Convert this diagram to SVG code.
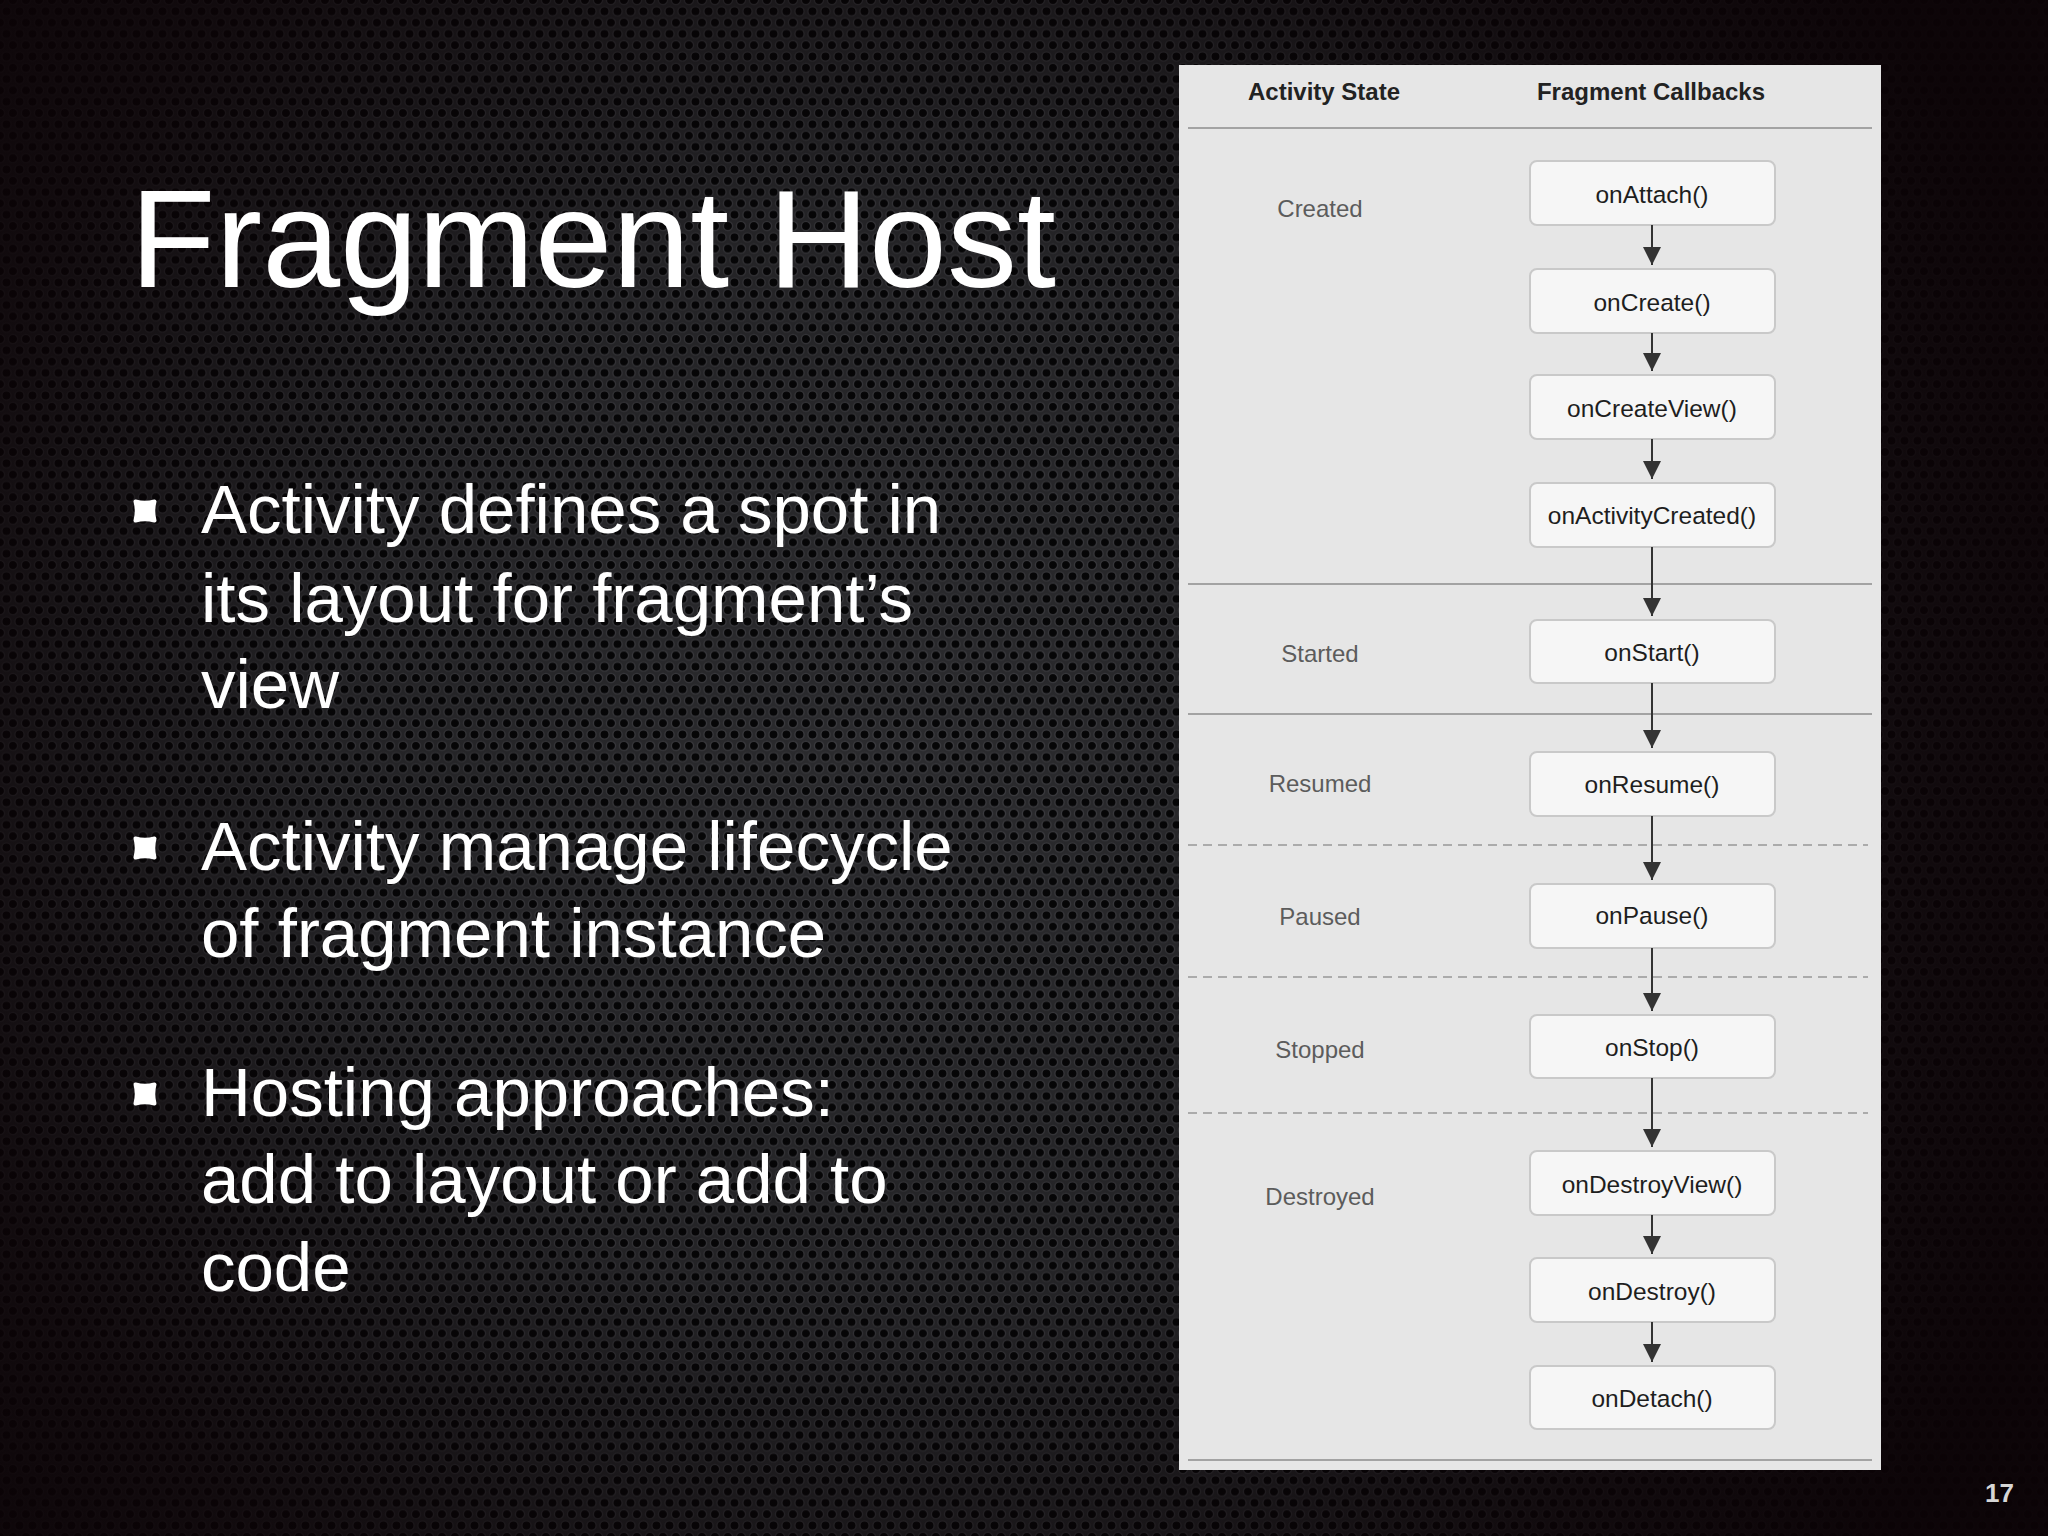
<svg xmlns="http://www.w3.org/2000/svg" width="2048" height="1536" viewBox="0 0 2048 1536">
  <defs>
    <pattern id="holes" patternUnits="userSpaceOnUse" width="13" height="22.6">
      <rect width="13" height="22.6" fill="#2b2b2e"/>
      <circle cx="0" cy="0" r="4.6" fill="#060607" stroke="#3c3c40" stroke-width="1.3"/>
      <circle cx="13" cy="0" r="4.6" fill="#060607" stroke="#3c3c40" stroke-width="1.3"/>
      <circle cx="6.5" cy="11.3" r="4.6" fill="#060607" stroke="#3c3c40" stroke-width="1.3"/>
      <circle cx="0" cy="22.6" r="4.6" fill="#060607" stroke="#3c3c40" stroke-width="1.3"/>
      <circle cx="13" cy="22.6" r="4.6" fill="#060607" stroke="#3c3c40" stroke-width="1.3"/>
    </pattern>
    <radialGradient id="vignette" cx="900" cy="760" r="1250" gradientUnits="userSpaceOnUse">
      <stop offset="0" stop-color="#000000" stop-opacity="0"/>
      <stop offset="0.45" stop-color="#050204" stop-opacity="0.2"/>
      <stop offset="0.8" stop-color="#0b0306" stop-opacity="0.8"/>
      <stop offset="1" stop-color="#0b0306" stop-opacity="0.95"/>
    </radialGradient>
    <marker id="arrow" viewBox="0 0 18 18" refX="18" refY="9" markerWidth="18" markerHeight="18" markerUnits="userSpaceOnUse" orient="auto">
      <path d="M0,0 L18,9 L0,18 Z" fill="#333333"/>
    </marker>
    <path id="bulletShape" d="M-9.5,-9.5 Q0,-7 9.5,-9.5 Q7,0 9.5,9.5 Q0,7 -9.5,9.5 Q-7,0 -9.5,-9.5 Z"/>
  </defs>
  <style>
    .title { font-family: "Liberation Sans", Arial, sans-serif; font-size: 140px; fill: #ffffff; }
    .bullet { font-family: "Liberation Sans", Arial, sans-serif; font-size: 69px; fill: #ffffff; }
    .mark { fill: #ffffff; stroke: #ffffff; stroke-width: 4; stroke-linejoin: round; }
    .hdr { font-family: "Liberation Sans", Arial, sans-serif; font-size: 24px; font-weight: bold; fill: #222222; text-anchor: middle; }
    .state { font-family: "Liberation Sans", Arial, sans-serif; font-size: 24px; fill: #5c5c5c; text-anchor: middle; }
    .box rect { fill: #f6f6f6; stroke: #c9c9c9; stroke-width: 2; }
    .box text { font-family: "Liberation Sans", Arial, sans-serif; font-size: 24.5px; fill: #1e1e1e; text-anchor: middle; }
    .sep { stroke: #a3a3a3; stroke-width: 2; }
    .dash { stroke: #ababab; stroke-width: 2; stroke-dasharray: 9 6; }
    .conn line { stroke: #333333; stroke-width: 2; marker-end: url(#arrow); }
    .pgnum { font-family: "Liberation Sans", Arial, sans-serif; font-size: 26px; font-weight: bold; fill: #d6d6d6; }
  </style>

  <!-- background -->
  <rect x="0" y="0" width="2048" height="1536" fill="url(#holes)"/>
  <rect x="0" y="0" width="2048" height="1536" fill="url(#vignette)"/>

  <!-- title and bullets -->
  <g id="title">
    <text class="title" x="130" y="287">Fragment Host</text>
  </g>
  <g id="bullet1">
    <use href="#bulletShape" class="mark" x="145" y="511"/>
    <text class="bullet" x="201" y="533">Activity defines a spot in</text>
    <text class="bullet" x="201" y="622">its layout for fragment’s</text>
    <text class="bullet" x="201" y="708">view</text>
  </g>
  <g id="bullet2">
    <use href="#bulletShape" class="mark" x="145" y="848"/>
    <text class="bullet" x="201" y="870">Activity manage lifecycle</text>
    <text class="bullet" x="201" y="957">of fragment instance</text>
  </g>
  <g id="bullet3">
    <use href="#bulletShape" class="mark" x="145" y="1094"/>
    <text class="bullet" x="201" y="1116">Hosting approaches:</text>
    <text class="bullet" x="201" y="1203">add to layout or add to</text>
    <text class="bullet" x="201" y="1291">code</text>
  </g>

  <!-- lifecycle panel -->
  <g id="panel">
    <rect x="1179" y="65" width="702" height="1405" fill="#e6e6e6"/>
    <text class="hdr" x="1324" y="100">Activity State</text>
    <text class="hdr" x="1651" y="100">Fragment Callbacks</text>
    <line class="sep" x1="1188" y1="128" x2="1872" y2="128"/>
    <line class="sep" x1="1188" y1="584" x2="1872" y2="584"/>
    <line class="sep" x1="1188" y1="714" x2="1872" y2="714"/>
    <line class="dash" x1="1188" y1="845" x2="1868" y2="845"/>
    <line class="dash" x1="1188" y1="977" x2="1868" y2="977"/>
    <line class="dash" x1="1188" y1="1113" x2="1868" y2="1113"/>
    <line class="sep" x1="1188" y1="1460" x2="1872" y2="1460"/>
  </g>

  <g id="states">
    <text class="state" x="1320" y="217">Created</text>
    <text class="state" x="1320" y="662">Started</text>
    <text class="state" x="1320" y="792">Resumed</text>
    <text class="state" x="1320" y="925">Paused</text>
    <text class="state" x="1320" y="1058">Stopped</text>
    <text class="state" x="1320" y="1205">Destroyed</text>
  </g>

  <g id="onAttach" class="box"><rect x="1530" y="161" width="245" height="64" rx="7"/><text x="1652" y="203">onAttach()</text></g>
  <g id="onCreate" class="box"><rect x="1530" y="269" width="245" height="64" rx="7"/><text x="1652" y="311">onCreate()</text></g>
  <g id="onCreateView" class="box"><rect x="1530" y="375" width="245" height="64" rx="7"/><text x="1652" y="417">onCreateView()</text></g>
  <g id="onActivityCreated" class="box"><rect x="1530" y="483" width="245" height="64" rx="7"/><text x="1652" y="524">onActivityCreated()</text></g>
  <g id="onStart" class="box"><rect x="1530" y="620" width="245" height="63" rx="7"/><text x="1652" y="661">onStart()</text></g>
  <g id="onResume" class="box"><rect x="1530" y="752" width="245" height="64" rx="7"/><text x="1652" y="793">onResume()</text></g>
  <g id="onPause" class="box"><rect x="1530" y="884" width="245" height="64" rx="7"/><text x="1652" y="924">onPause()</text></g>
  <g id="onStop" class="box"><rect x="1530" y="1015" width="245" height="63" rx="7"/><text x="1652" y="1056">onStop()</text></g>
  <g id="onDestroyView" class="box"><rect x="1530" y="1151" width="245" height="64" rx="7"/><text x="1652" y="1193">onDestroyView()</text></g>
  <g id="onDestroy" class="box"><rect x="1530" y="1258" width="245" height="64" rx="7"/><text x="1652" y="1300">onDestroy()</text></g>
  <g id="onDetach" class="box"><rect x="1530" y="1366" width="245" height="63" rx="7"/><text x="1652" y="1407">onDetach()</text></g>

  <g id="connectors" class="conn">
    <line x1="1652" y1="225" x2="1652" y2="265"/>
    <line x1="1652" y1="333" x2="1652" y2="371"/>
    <line x1="1652" y1="439" x2="1652" y2="479"/>
    <line x1="1652" y1="547" x2="1652" y2="616"/>
    <line x1="1652" y1="683" x2="1652" y2="748"/>
    <line x1="1652" y1="816" x2="1652" y2="880"/>
    <line x1="1652" y1="948" x2="1652" y2="1011"/>
    <line x1="1652" y1="1078" x2="1652" y2="1147"/>
    <line x1="1652" y1="1215" x2="1652" y2="1254"/>
    <line x1="1652" y1="1322" x2="1652" y2="1362"/>
  </g>

  <g id="pageNumber">
    <text class="pgnum" x="1985" y="1502">17</text>
  </g>
</svg>
